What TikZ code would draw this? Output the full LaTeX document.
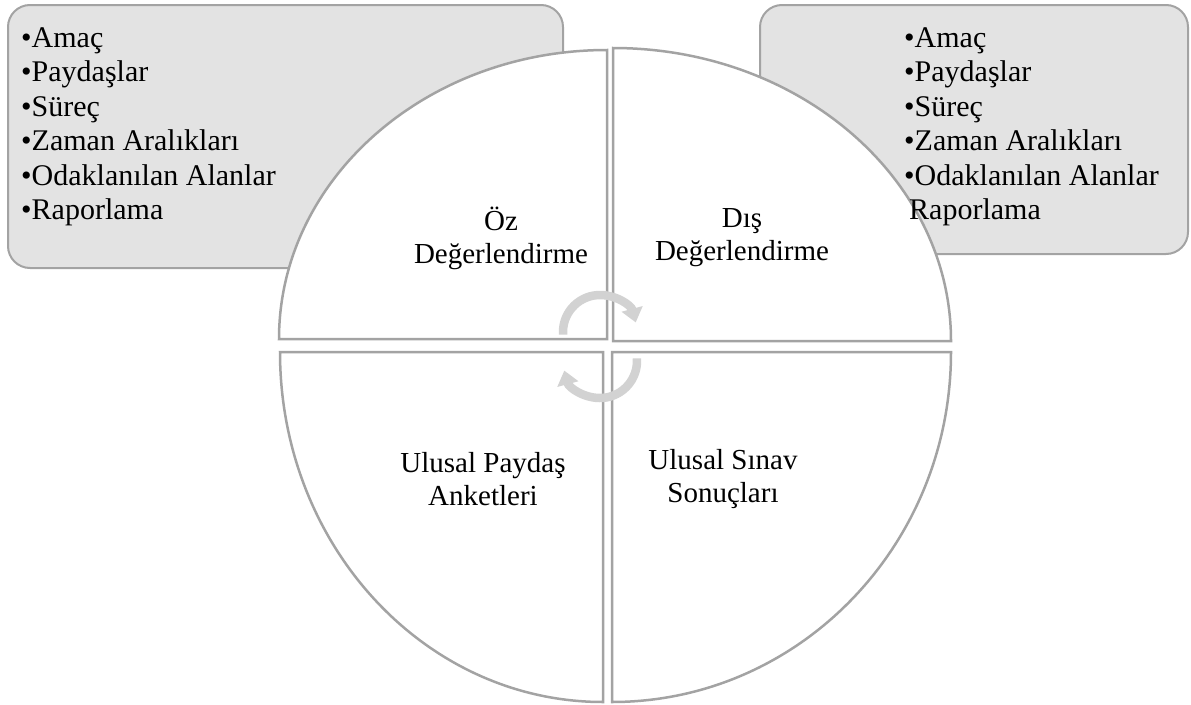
\documentclass[tikz,border=0pt]{standalone}
\usepackage{fontspec}
\setmainfont{Liberation Serif}
\usetikzlibrary{arrows.meta}
\definecolor{edgegray}{HTML}{A3A3A3}
\definecolor{boxfill}{HTML}{E3E3E3}
\definecolor{arrowgray}{HTML}{D2D2D2}
\begin{document}
\begin{tikzpicture}[x=1pt,y=-1pt,
  infobox/.style={draw=edgegray, fill=boxfill, line width=2pt, rounded corners=22pt},
  quadrant/.style={draw=edgegray, fill=white, line width=2.5pt, line join=miter},
  cyclearrow/.style={draw=arrowgray, line width=8.5pt, -{Triangle[width=21pt,length=14pt]}},
  qlabel/.style={align=center, font=\fontsize{29}{33}\selectfont, inner sep=0pt},
  item/.style={anchor=base west, font=\fontsize{30}{34}\selectfont, inner sep=0pt}
]
\useasboundingbox (0,0) rectangle (1191,704);

% grey information boxes behind the circle
\draw[infobox] (8,5) rectangle (563,268);
\draw[infobox] (760,5) rectangle (1188,254);

% the four quarters of the circle
\draw[quadrant] (607,339) -- (279,339) arc[start angle=180,end angle=270,x radius=328,y radius=289] -- cycle;
\draw[quadrant] (613,341) -- (613,48) arc[start angle=270,end angle=360,x radius=338,y radius=293] -- cycle;
\draw[quadrant] (612,352) -- (951,352) arc[start angle=0,end angle=90,x radius=339,y radius=350] -- cycle;
\draw[quadrant] (603,352) -- (603,702) arc[start angle=90,end angle=180,x radius=323,y radius=350] -- cycle;

% cycle arrows in the middle
\coordinate (ctop) at (600,332);
\coordinate (cbot) at (600,361);
\draw[cyclearrow] (ctop) ++(176:37) arc[start angle=176,end angle=345,radius=37];
\draw[cyclearrow] (cbot) ++(-4:37) arc[start angle=-4,end angle=165,radius=37];

% quarter labels
\node[qlabel] (oz)  at (501,238) {Öz\\Değerlendirme};
\node[qlabel] (dis) at (742,238) {Dış\\Değerlendirme};
\node[qlabel] (upa) at (483,479) {Ulusal Paydaş\\Anketleri};
\node[qlabel] (uss) at (723,479) {Ulusal Sınav\\Sonuçları};

% box items
\foreach \t [count=\i] in {Amaç,Paydaşlar,Süreç,Zaman Aralıkları,Odaklanılan Alanlar,Raporlama}
  \node[item] (l\i) at (21,{47+34.5*(\i-1)}) {•\t};
\foreach \t [count=\i] in {Amaç,Paydaşlar,Süreç,Zaman Aralıkları,Odaklanılan Alanlar}
  \node[item] (r\i) at (904,{47+34.5*(\i-1)}) {•\t};
\node[item] (r6) at (909,{47+34.5*5}) {Raporlama};
\end{tikzpicture}
\end{document}
